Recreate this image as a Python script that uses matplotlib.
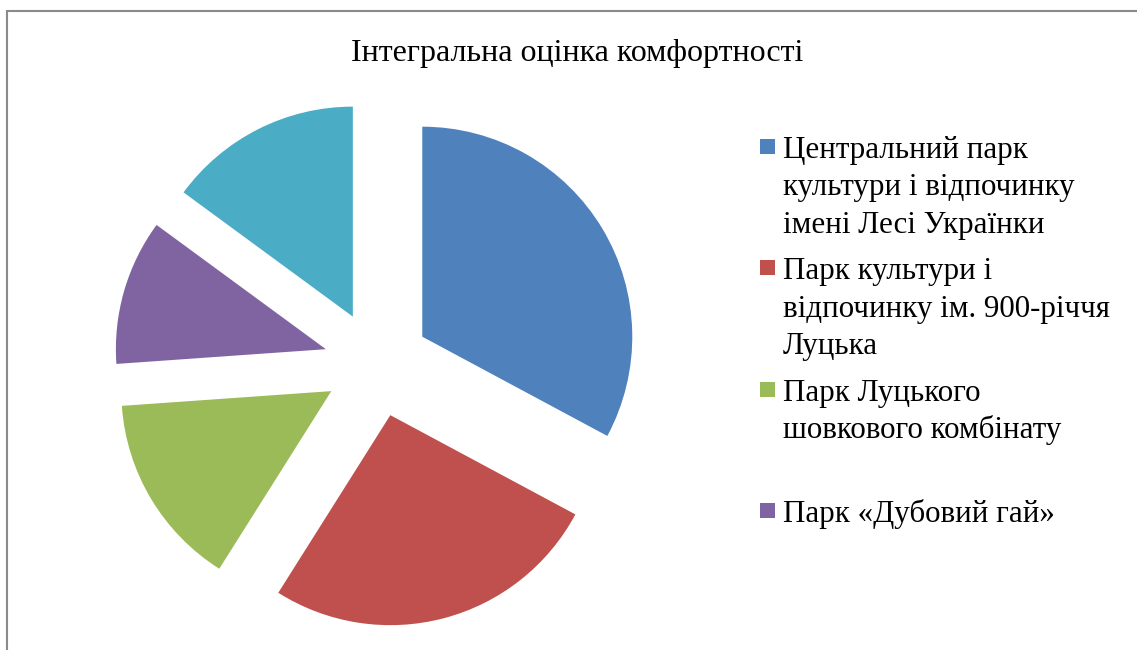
import matplotlib.pyplot as plt
from matplotlib.patches import Rectangle

# integral comfort score per park
parks = ['Центральний парк\nкультури і відпочинку\nімені Лесі Українки',
         'Парк культури і\nвідпочинку ім. 900-річчя\nЛуцька',
         'Парк Луцького\nшовкового комбінату',
         'Парк «Дубовий гай»',
         '']
scores = [4.4, 3.5, 2.0, 1.5, 2.0]
colors = ['#4F81BD', '#C0504D', '#9BBB59', '#8064A2', '#4BACC6']

W, H = 1137, 650
fig = plt.figure(figsize=(W / 100, H / 100), dpi=100)
plt.rcParams['font.family'] = ['Liberation Serif', 'DejaVu Serif']

# axes in pixel units
ax = fig.add_axes([0, 0, 1, 1])
r = 210
ax.pie(scores, colors=colors, startangle=90, counterclock=False,
       center=(376.8, H - 363.9), radius=r, explode=[53] * len(scores),
       wedgeprops=dict(linewidth=0))
ax.set_xlim(0, W)
ax.set_ylim(0, H)
ax.set_aspect('auto')
ax.axis('off')

# chart border (cut off at right / bottom)
ax.add_patch(Rectangle((7, -20), W + 20, H - 11 + 20, fill=False,
                       edgecolor='#8a8a8a', linewidth=1.5))

ax.text(577.5, H - 61, 'Інтегральна оцінка комфортності', fontsize=23,
        ha='center', va='baseline')

# legend, Excel style: equally spaced entries, one text per line
for i in range(4):
    yc = H - (146.5 + i * 121.3)
    ax.add_patch(Rectangle((760, yc - 7.5), 15, 15, color=colors[i], lw=0))
    for j, line in enumerate(parks[i].split('\n')):
        ax.text(783, yc - 11.5 - j * 37.5, line, fontsize=22.3,
                ha='left', va='baseline')

fig.savefig('out.png', dpi=100)
